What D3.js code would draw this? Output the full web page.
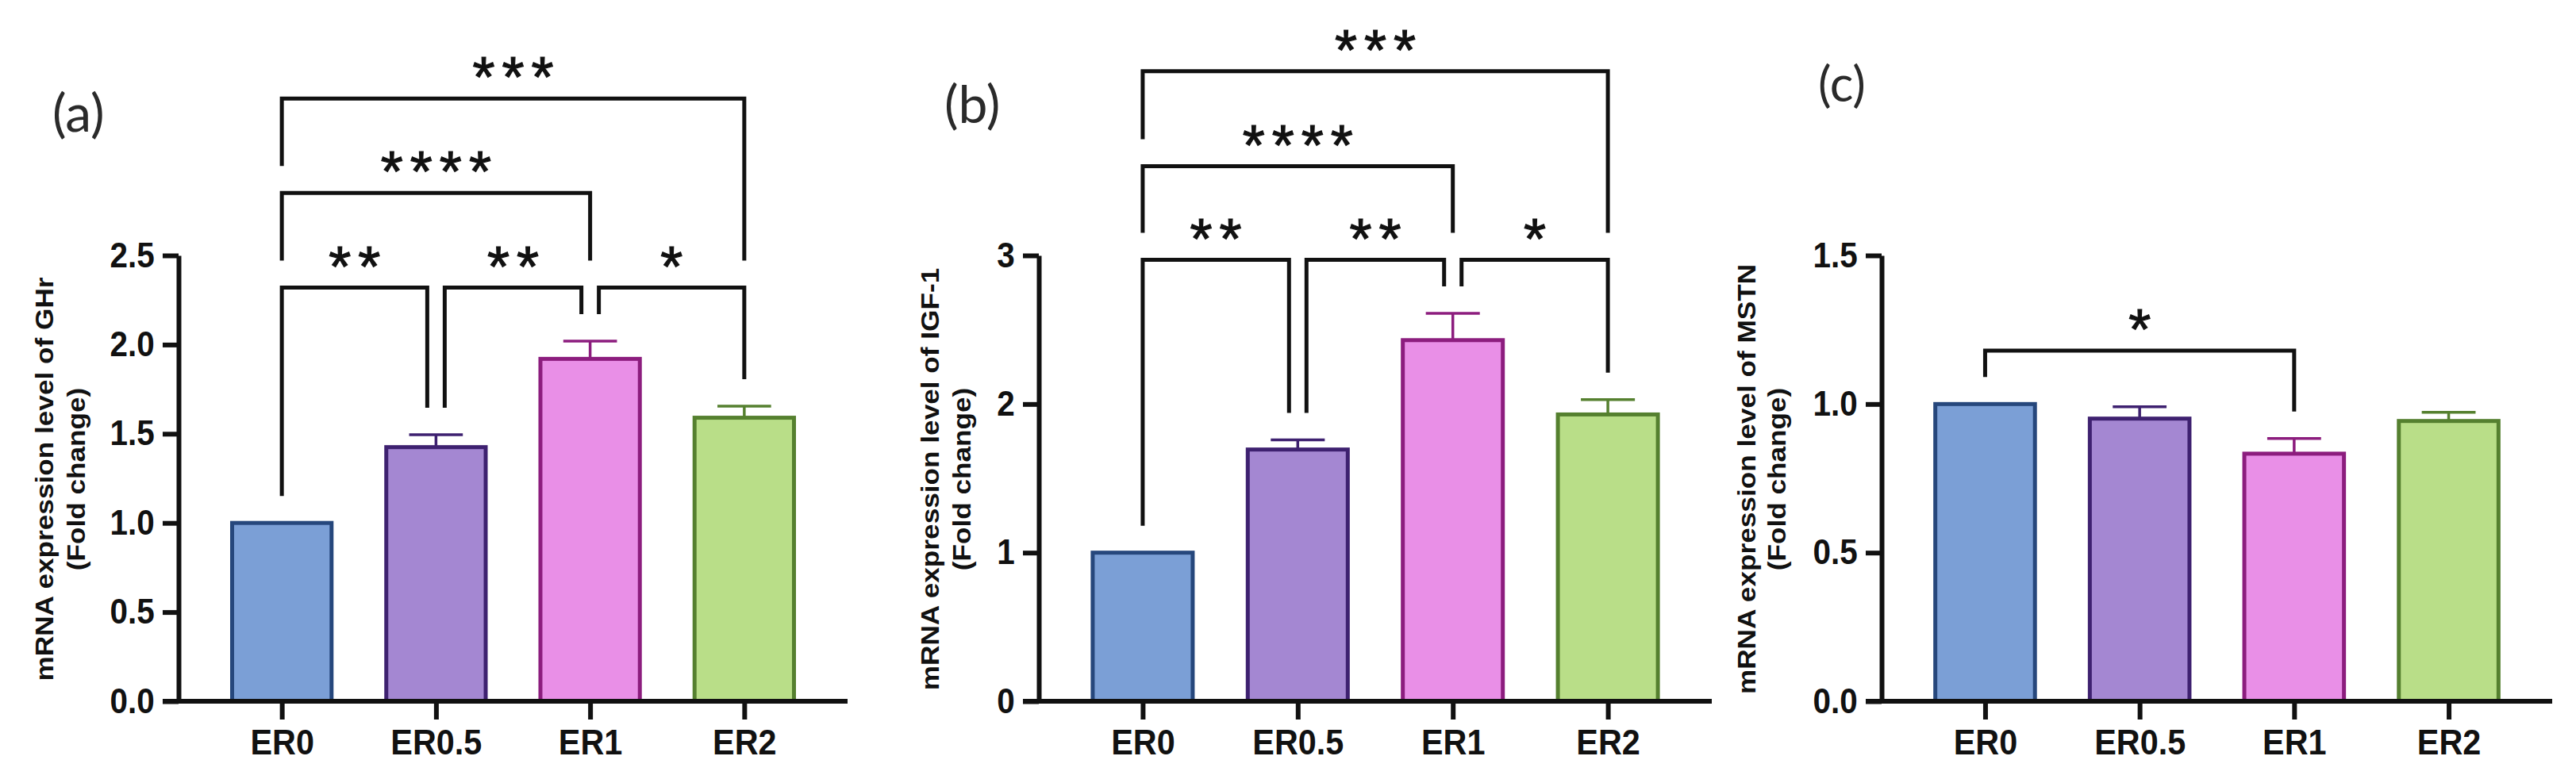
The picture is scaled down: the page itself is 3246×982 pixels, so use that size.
<!DOCTYPE html>
<html>
<head>
<meta charset="utf-8">
<script src="https://cdn.jsdelivr.net/npm/d3@7"></script>
<style>
  html, body { margin: 0; padding: 0; background: #ffffff; }
  svg { display: block; }
</style>
</head>
<body>
<svg id="chart" width="3246" height="982"></svg>
<script>
// ---------------- DATA ----------------
const categories = ["ER0", "ER0.5", "ER1", "ER2"];

const ghrMean  = [1.00, 1.425, 1.92, 1.59];
const ghrSem   = [0.00, 0.070, 0.10, 0.065];
const igfMean  = [1.00, 1.694, 2.43, 1.93];
const igfSem   = [0.00, 0.065, 0.18, 0.10];
const mstnMean = [1.00, 0.951, 0.833, 0.943];
const mstnSem  = [0.00, 0.040, 0.051, 0.029];

const ghrTicks  = [0, 0.5, 1.0, 1.5, 2.0, 2.5];
const igfTicks  = [0, 1, 2, 3];
const mstnTicks = [0, 0.5, 1.0, 1.5];

// significance brackets: [fromIndex, toIndex, bracket level (data units), label]
const ghrSig = [
  [0, 1, 2.32, "**"], [1, 2, 2.32, "**"], [2, 3, 2.32, "*"],
  [0, 2, 2.85, "****"], [0, 3, 3.38, "***"]
];
const igfSig = [
  [0, 1, 2.97, "**"], [1, 2, 2.97, "**"], [2, 3, 2.97, "*"],
  [0, 2, 3.60, "****"], [0, 3, 4.24, "***"]
];
const mstnSig = [[0, 2, 1.18, "*"]];

const panelLabels = ["(a)", "(b)", "(c)"];
const yTitles = [
  ["mRNA expression level of GHr", "(Fold change)"],
  ["mRNA expression level of IGF-1", "(Fold change)"],
  ["mRNA  expression level of MSTN", "(Fold change)"]
];

const fills   = ["#7b9fd6", "#a487d2", "#e98fe7", "#b9de88"];
const strokes = ["#26477c", "#3e2170", "#8c1d7e", "#55802f"];

// ---------------- DRAW ----------------
const svg = d3.select("#chart");
const Y0 = 884, YTOP = 322;
const SANS = "'Liberation Sans', Arial, sans-serif";

function panel(cfg) {
  const g = svg.append("g");
  const y = d3.scaleLinear().domain([0, cfg.max]).range([Y0, YTOP]);
  const x = d3.scalePoint().domain(categories).range([cfg.x0, cfg.x1]).padding(0.67);
  const bw = x.step() * 0.645;

  // bars
  const data = categories.map((c, i) => ({c, i, m: cfg.mean[i], s: cfg.sem[i]}));
  g.selectAll("rect.bar").data(data).enter().append("rect")
    .attr("x", d => x(d.c) - bw / 2)
    .attr("y", d => y(d.m))
    .attr("width", bw)
    .attr("height", d => y(0) - y(d.m))
    .attr("fill", d => fills[d.i])
    .attr("stroke", d => strokes[d.i])
    .attr("stroke-width", 5);

  // error bars (upper only)
  const eb = data.filter(d => d.s > 0);
  g.selectAll("line.err").data(eb).enter().append("line")
    .attr("x1", d => x(d.c)).attr("x2", d => x(d.c))
    .attr("y1", d => y(d.m)).attr("y2", d => y(d.m + d.s))
    .attr("stroke", d => strokes[d.i]).attr("stroke-width", 3.5);
  g.selectAll("line.cap").data(eb).enter().append("line")
    .attr("x1", d => x(d.c) - bw * 0.27).attr("x2", d => x(d.c) + bw * 0.27)
    .attr("y1", d => y(d.m + d.s)).attr("y2", d => y(d.m + d.s))
    .attr("stroke", d => strokes[d.i]).attr("stroke-width", 3.5);

  // y axis
  const ya = g.append("g").attr("transform", `translate(${cfg.x0},0)`)
    .call(d3.axisLeft(y).tickValues(cfg.ticks).tickFormat(cfg.fmt)
      .tickSize(20).tickSizeOuter(0).tickPadding(13));
  ya.select(".domain").attr("stroke", "#111").attr("stroke-width", 6);
  ya.selectAll(".tick line").attr("stroke", "#111").attr("stroke-width", 6);
  ya.selectAll(".tick text").attr("font-family", SANS).attr("font-weight", "bold")
    .attr("font-size", 44).attr("fill", "#111").attr("transform", "scale(0.92,1)");

  // x axis
  g.append("line").attr("x1", cfg.x0 - 20).attr("x2", cfg.x1)
    .attr("y1", Y0).attr("y2", Y0).attr("stroke", "#111").attr("stroke-width", 6);
  const xa = g.append("g").attr("transform", `translate(0,${Y0})`)
    .call(d3.axisBottom(x).tickSize(23).tickSizeOuter(0).tickPadding(12));
  xa.select(".domain").remove();
  xa.selectAll(".tick line").attr("stroke", "#111").attr("stroke-width", 6);
  xa.selectAll(".tick text").attr("font-family", SANS).attr("font-weight", "bold")
    .attr("font-size", 45).attr("fill", "#111").attr("transform", "scale(0.92,1)");
  ya.attr("font-size", null);
  xa.attr("font-size", null);

  // significance brackets
  const gap = 34, off = 11;
  const obstacle = data.map(d => y(d.m + d.s));
  const sorted = cfg.sig.slice().sort((a, b) => a[2] - b[2]);
  const levels = Array.from(new Set(sorted.map(s => s[2])));
  levels.forEach(lv => {
    const row = sorted.filter(s => s[2] === lv);
    const by = y(lv);
    const updates = [];
    row.forEach(s => {
      const [i, j, , lab] = s;
      const shareLeft = row.some(o => o !== s && o[1] === i);
      const shareRight = row.some(o => o !== s && o[0] === j);
      const xl = x(categories[i]) + (shareLeft ? off : 0);
      const xr = x(categories[j]) - (shareRight ? off : 0);
      const yl = obstacle[i] - gap, yr = obstacle[j] - gap;
      g.append("path")
        .attr("d", `M${xl},${yl}V${by}H${xr}V${yr}`)
        .attr("fill", "none").attr("stroke", "#111").attr("stroke-width", 5)
        .attr("stroke-linejoin", "miter");
      const fs = 72, ls = 9;
      g.append("text")
        .attr("x", (xl + xr) / 2 + ls / 2)
        .attr("y", by - 43 + 0.57 * fs)
        .attr("text-anchor", "middle")
        .attr("font-family", SANS).attr("font-weight", "normal")
        .attr("stroke", "#111").attr("stroke-width", 1.2)
        .attr("font-size", fs).attr("letter-spacing", ls).attr("fill", "#111")
        .text(lab);
      for (let k = i; k <= j; k++) updates.push([k, by]);
    });
    updates.forEach(([k, v]) => { obstacle[k] = Math.min(obstacle[k], v); });
  });

  // y title (two lines, rotated)
  const ty = 604;
  cfg.title.forEach((t, li) => {
    g.append("text")
      .attr("transform", `translate(${cfg.x0 - cfg.titleOff[li]},${ty}) rotate(-90) scale(1.1,1)`)
      .attr("text-anchor", "middle")
      .attr("font-family", SANS).attr("font-weight", "bold")
      .attr("font-size", 32).attr("fill", "#111")
      .text(t);
  });

  // panel label
  g.append("text")
    .attr("x", cfg.lx).attr("y", cfg.ly)
    .attr("font-family", "Lato, 'Open Sans', sans-serif")
    .attr("font-size", cfg.lfs).attr("fill", "#2a2a2a")
    .text(cfg.label);
}

const fmt1 = d3.format(".1f");
const fmt0 = d3.format("d");

panel({x0: 225, x1: 1068, max: 2.5, ticks: ghrTicks, fmt: fmt1, mean: ghrMean, sem: ghrSem,
       sig: ghrSig, title: yTitles[0], titleOff: [158, 118], label: panelLabels[0], lx: 66, ly: 166, lfs: 66});
panel({x0: 1309, x1: 2157, max: 3, ticks: igfTicks, fmt: fmt0, mean: igfMean, sem: igfSem,
       sig: igfSig, title: yTitles[1], titleOff: [126, 86], label: panelLabels[1], lx: 1190, ly: 155, lfs: 66});
panel({x0: 2371, x1: 3216, max: 1.5, ticks: mstnTicks, fmt: fmt1, mean: mstnMean, sem: mstnSem,
       sig: mstnSig, title: yTitles[2], titleOff: [159, 121], label: panelLabels[2], lx: 2291, ly: 128, lfs: 62});
</script>
</body>
</html>
